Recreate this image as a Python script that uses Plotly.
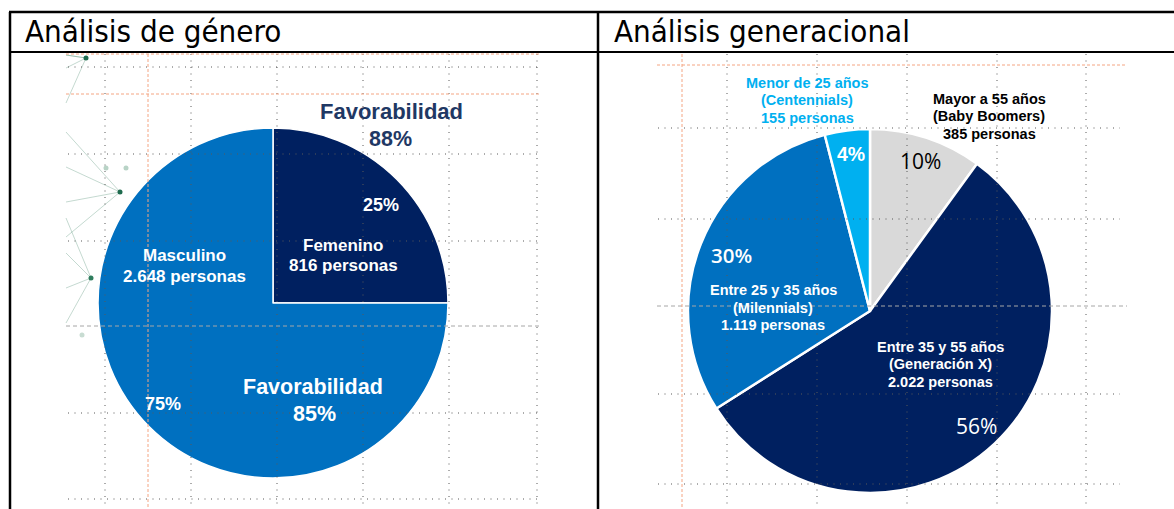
import plotly.graph_objects as go

# ---- datos ----
genero_labels = ["Femenino", "Masculino"]
genero_personas = ["816", "2.648"]
genero_pct = [25, 75]
genero_fav = [88, 85]
genero_colors = ["#002060", "#0070C0"]

gen_labels = ["Menor de 25 años", "Entre 25 y 35 años", "Entre 35 y 55 años", "Mayor a 55 años"]
gen_grupos = ["Centennials", "Milennials", "Generación X", "Baby Boomers"]
gen_personas = ["155", "1.119", "2.022", "385"]
gen_pct = [4, 30, 56, 10]
gen_colors = ["#00B0F0", "#0070C0", "#002060", "#D9D9D9"]

titulos = ["Análisis de género", "Análisis generacional"]

W, H = 1174, 509
ARIAL = "Liberation Sans, Arial, sans-serif"
CALIBRI = "Open Sans, Lato, sans-serif"


def px(x, y):
    return x / W, 1 - y / H


def dominio(cx, cy, r):
    x0, y1 = px(cx - r, cy - r)
    x1, y0 = px(cx + r, cy + r)
    return dict(x=[x0, x1], y=[y0, y1])


fig = go.Figure()

fig.add_trace(go.Pie(
    labels=genero_labels, values=genero_pct, sort=False, direction="clockwise",
    marker=dict(colors=genero_colors, line=dict(color="white", width=1.5)),
    textinfo="none", hoverinfo="label+percent", showlegend=False,
    domain=dominio(273, 303, 175),
))

# de mayor a menor edad, en sentido horario desde las 12
fig.add_trace(go.Pie(
    labels=gen_labels[::-1], values=gen_pct[::-1], sort=False, direction="clockwise",
    marker=dict(colors=gen_colors[::-1], line=dict(color="white", width=2.5)),
    textinfo="none", hoverinfo="label+percent", showlegend=False,
    domain=dominio(870, 311, 182),
))

anns = []


def texto(t, x, y, size, color="white", family=ARIAL, weight="bold", xanchor="center"):
    xx, yy = px(x, y)
    anns.append(dict(text=t, x=xx, y=yy, xref="paper", yref="paper", showarrow=False,
                     xanchor=xanchor, yanchor="middle",
                     font=dict(size=size, color=color, family=family, weight=weight)))


def bloque(lineas, x, y0, paso, size, color="white"):
    for i, t in enumerate(lineas):
        texto(t, x, y0 + i * paso, size, color)


# titulos de la tabla
texto(titulos[0], 23, 31, 31, "black", "DejaVu Sans Condensed, DejaVu Sans", "normal", "left")
texto(titulos[1], 612, 31, 31, "black", "DejaVu Sans Condensed, DejaVu Sans", "normal", "left")

# genero
texto("Favorabilidad", 391, 111, 22, "#1F3864")
texto(f"{genero_fav[0]}%", 390, 139, 21.5, "#1F3864")
texto(f"{genero_pct[0]}%", 381, 205, 18)
bloque([genero_labels[0], f"{genero_personas[0]} personas"], 343, 245, 20.5, 17)
bloque([genero_labels[1], f"{genero_personas[1]} personas"], 184, 255, 21, 17)
texto("Favorabilidad", 313, 387, 21.5)
texto(f"{genero_fav[1]}%", 314, 414, 21.5)
texto(f"{genero_pct[1]}%", 163, 404, 18)


# generacional
def lineas_gen(i):
    return [gen_labels[i], f"({gen_grupos[i]})", f"{gen_personas[i]} personas"]


bloque(lineas_gen(0), 807, 83, 17.4, 14.5, "#00B0F0")
bloque(lineas_gen(1), 773, 290, 17.5, 14.5)
bloque(lineas_gen(2), 940, 347, 17.3, 14.5)
bloque(lineas_gen(3), 989, 99, 17.4, 14.5, "black")
texto(f"{gen_pct[0]}%", 851, 154, 19.5)
texto(f"{gen_pct[1]}%", 731, 255, 20.5, "white", CALIBRI, 600)
texto(f"{gen_pct[2]}%", 976, 426, 21, "white", CALIBRI, 400)
texto(f"{gen_pct[3]}%", 920, 161, 21, "black", CALIBRI, 400)

# lineas de la tabla y guias de la diapositiva
shapes = []


def linea(x0, y0, x1, y1, color, width, dash="solid", layer="above"):
    a, b = px(x0, y0)
    c, d = px(x1, y1)
    shapes.append(dict(type="line", x0=a, y0=b, x1=c, y1=d, xref="paper", yref="paper",
                       line=dict(color=color, width=width, dash=dash), layer=layer))


PUNTO = "1px,5.5px"
GRIS = "#595959"
NARANJA = "#F4A582"

# adorno verde (red de puntos) a la izquierda
VERDE = "rgba(60,130,100,0.3)"
for (xd, yd) in [(86, 58), (120, 192), (91, 278)]:
    for dy in [-60, -25, 10, 45]:
        y0 = max(yd + dy, 55)
        linea(66, y0, xd, yd, VERDE, 1, layer="below")
for (xd, yd, c) in [(86, 58, "#1E6B4E"), (120, 192, "#1E6B4E"), (91, 278, "#2E7D5E"),
                    (106, 168, "#B8D3C6"), (126, 168, "#B8D3C6"), (82, 335, "#C8DCD2")]:
    a, b = px(xd - 2.5, yd - 2.5)
    c2, d = px(xd + 2.5, yd + 2.5)
    shapes.append(dict(type="circle", x0=a, y0=d, x1=c2, y1=b, xref="paper", yref="paper",
                       fillcolor=c, line=dict(width=0), layer="below"))

# guias izquierda
for x in [105, 191, 277, 363, 449, 537]:
    linea(x, 54, x, H, GRIS, 1, PUNTO)
for y in [67, 154, 241, 413, 499]:
    linea(68, y, 540, y, GRIS, 1, PUNTO)
linea(66, 326, 540, 326, "#A6A6A6", 1, "4px,3px")
linea(148, 54, 148, H, NARANJA, 1, "3px,2px")
linea(66, 94, 540, 94, NARANJA, 1, "3px,2px")
linea(66, 54, 540, 54, NARANJA, 1, "3px,2px")

# guias derecha
for x in [727, 817, 907, 997, 1086]:
    linea(x, 54, x, H, GRIS, 1, PUNTO)
for y in [128, 219, 394, 484]:
    linea(658, y, 1120, y, GRIS, 1, PUNTO)
linea(657, 306, 1127, 306, "#A6A6A6", 1, "4px,3px")
linea(682, 54, 682, H, NARANJA, 1, "3px,2px")
linea(657, 65, 1127, 65, NARANJA, 1, "3px,2px")

# bordes de la tabla
linea(9, 12, W, 12, "black", 2.5)
linea(10, 12, 10, H, "black", 2.5)
linea(598, 12, 598, H, "black", 2.5)
linea(10, 52, W, 52, "black", 2)

fig.update_layout(
    width=W, height=H,
    margin=dict(l=0, r=0, t=0, b=0),
    paper_bgcolor="white", plot_bgcolor="white",
    annotations=anns, shapes=shapes,
)

fig.write_html("out.html", config={"displayModeBar": False},
               post_script="document.body.style.margin='0';")
